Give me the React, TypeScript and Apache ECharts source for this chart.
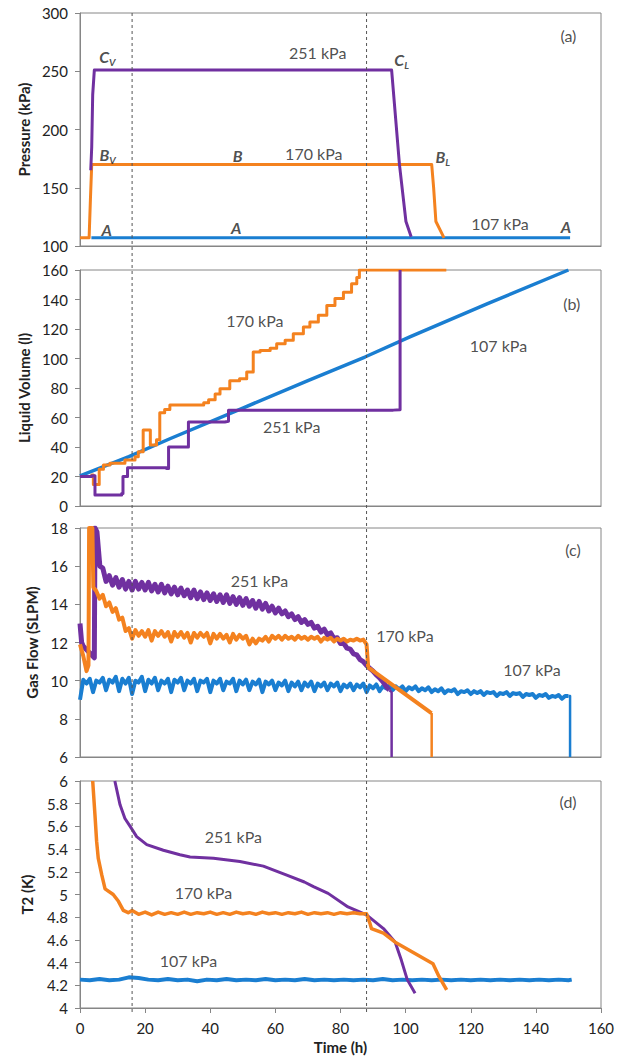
import React, { useEffect, useRef } from 'react';
import * as echarts from 'echarts';

// colours of the three runs
const PURPLE = '#7030A0';
const ORANGE = '#F4821F';
const BLUE = '#1A7ED1';

const timeTicks = { min: 0, max: 160, interval: 20 };
const dividerTimes = [16, 88];

// (a) pressure, kPa  [h, kPa]
const pressBlue = [[3.5, 107], [150.5, 107]];
const pressOrange = [[0, 107], [2.8, 107], [3.2, 140], [3.6, 170], [108, 170], [108.6, 150], [109.3, 121], [111.8, 107]];
const pressPurple = [[3.3, 165], [3.6, 185], [3.9, 230], [4.4, 251], [95.7, 251], [98.1, 170], [100.1, 121], [101.7, 108]];

// (b) liquid volume, l  [h, l]
const volBlue = [[0, 20.5], [15, 33.5], [27.6, 45.6], [50, 66.4], [70, 85], [87.5, 101], [101.3, 114.6], [125, 137], [150, 160]];
const volOrange = [
  [0, 20], [3.6, 21], [4.1, 14.5], [5.9, 25], [7.2, 27.8], [9.2, 29], [13.8, 31.2], [16.9, 33.4],
  [17.9, 36.8], [19.4, 51.5], [21.6, 41.4], [23.5, 45], [24.5, 63.3], [26, 65.5], [27.6, 68.5],
  [38, 70], [39.5, 72], [41.5, 76], [43, 79.5], [46, 85], [49, 86.2], [51.2, 90.8], [53.2, 104.4],
  [55.3, 105.5], [58.4, 107], [60.4, 110], [63, 112.3], [65.5, 116.8], [68.6, 121.4], [70.6, 124.7],
  [73.2, 129.3], [75.8, 136], [78.3, 140.6], [80.9, 145], [83.4, 150.7], [85, 155], [85.8, 160], [112.5, 160],
];
const volPurple = [
  [0, 20], [3.6, 20.5], [4.6, 7.5], [12.8, 8.5], [13.2, 20], [14.6, 26], [26.6, 25.5], [27.2, 40],
  [32.8, 40], [33.3, 57], [44.5, 57.4], [45.6, 65], [96.2, 65.3], [98.3, 67.8], [98.3, 160],
];

// (c) gas flow, SLPM — one reading per hour
const gasBlueFlow = [ // h 0 .. 150
  9.0, 10.05, 9.85, 10.1, 9.4, 10.0, 9.9, 10.15, 9.5, 10.05,
  9.9, 10.2, 9.45, 10.1, 9.85, 10.15, 9.3, 10.0, 9.9, 10.2,
  9.45, 10.05, 9.85, 10.15, 9.5, 10.0, 9.85, 10.1, 9.4, 10.05,
  9.9, 10.15, 9.5, 10.0, 9.85, 10.1, 9.45, 10.0, 9.9, 10.1,
  9.4, 10.0, 9.85, 10.1, 9.5, 9.95, 9.85, 10.1, 9.45, 10.0,
  9.8, 10.05, 9.5, 9.95, 9.8, 10.05, 9.4, 9.95, 9.8, 10.0,
  9.5, 9.9, 9.75, 10.0, 9.45, 9.9, 9.7, 9.95, 9.5, 9.9,
  9.7, 9.95, 9.45, 9.85, 9.7, 9.9, 9.5, 9.85, 9.7, 9.9,
  9.45, 9.8, 9.65, 9.85, 9.5, 9.8, 9.65, 9.85, 9.4, 9.75,
  9.6, 9.8, 9.45, 9.7, 9.6, 9.75, 9.5, 9.7, 9.55, 9.7,
  9.45, 9.65, 9.55, 9.7, 9.45, 9.6, 9.5, 9.65, 9.4, 9.55,
  9.45, 9.6, 9.35, 9.5, 9.45, 9.55, 9.3, 9.45, 9.4, 9.5,
  9.3, 9.45, 9.35, 9.45, 9.25, 9.4, 9.35, 9.4, 9.2, 9.35,
  9.3, 9.4, 9.2, 9.35, 9.3, 9.35, 9.15, 9.3, 9.25, 9.3,
  9.1, 9.25, 9.2, 9.3, 9.1, 9.2, 9.15, 9.25, 9.05, 9.2, 9.2,
];
const gasBlueDrop = [[150, 9.2], [150.5, 9.2], [150.5, 6]];

const gasPurpleStart = [[0, 13], [0.5, 12], [1, 11.8], [4.4, 11.2], [4.6, 18], [5.2, 17.8], [6.1, 16]];
const gasPurpleFlow = [ // h 7 .. 95
  15.9, 15.2, 15.5, 15.0, 15.4, 14.9, 15.3, 14.8, 15.2, 14.75,
  15.2, 14.8, 15.15, 14.75, 15.15, 14.7, 15.05, 14.65, 15.05, 14.6,
  14.95, 14.55, 14.9, 14.5, 14.85, 14.45, 14.75, 14.35, 14.75, 14.3,
  14.65, 14.25, 14.6, 14.2, 14.55, 14.15, 14.5, 14.1, 14.5, 14.05,
  14.4, 14.0, 14.35, 13.95, 14.3, 13.9, 14.2, 13.8, 14.15, 13.75,
  14.05, 13.65, 13.9, 13.55, 13.8, 13.5, 13.65, 13.35, 13.5, 13.2,
  13.35, 13.05, 13.2, 12.95, 13.05, 12.75, 12.85, 12.55, 12.7, 12.4,
  12.5, 12.2, 12.25, 11.95, 11.95, 11.7, 11.65, 11.4, 11.35, 11.1,
  11.0, 10.8, 10.65, 10.5, 10.3, 10.15, 9.95, 9.7, 9.5,
];
const gasPurpleDrop = [[95, 9.5], [95.7, 9.4], [95.7, 6]];

const gasOrangeStart = [[0, 11.9], [1, 11.3], [2, 10.5], [2.6, 10.8], [2.8, 18], [3.8, 18], [4.1, 14.9]];
const gasOrangeFlow = [ // h 5 .. 87
  14.7, 14.3, 14.5, 13.9, 14.1, 13.6, 13.8, 13.2, 13.3, 12.6,
  12.75, 12.2, 12.65, 12.35, 12.6, 12.3, 12.65, 12.1, 12.6, 12.35,
  12.6, 12.3, 12.55, 12.05, 12.55, 12.3, 12.55, 12.25, 12.5, 12.0,
  12.5, 12.25, 12.5, 12.3, 12.5, 11.95, 12.45, 12.2, 12.45, 12.2,
  12.4, 12.0, 12.45, 12.15, 12.4, 12.2, 12.35, 11.9, 12.2, 11.95,
  12.2, 12.1, 12.3, 12.05, 12.35, 12.2, 12.35, 12.15, 12.35, 12.2,
  12.3, 12.15, 12.35, 12.2, 12.3, 12.15, 12.3, 12.2, 12.3, 12.05,
  12.25, 12.15, 12.25, 12.05, 12.2, 12.1, 12.2, 12.05, 12.15, 12.1,
  12.2, 12.1, 12.15,
];
const gasOrangeEnd = [[88, 11.9], [88.5, 10.7], [107.5, 8.35], [108, 8.3]];
const gasOrangeDrop = [[108, 8.3], [108, 6]];

// (d) T2, K
const tempBlueT2 = [ // every 3 h, h 0 .. 150
  4.25, 4.245, 4.255, 4.245, 4.25, 4.27, 4.265, 4.25, 4.245, 4.255, 4.245, 4.25, 4.235, 4.25, 4.245, 4.255, 4.245,
  4.25, 4.245, 4.255, 4.245, 4.25, 4.245, 4.255, 4.245, 4.25, 4.245, 4.25, 4.245, 4.25, 4.245, 4.255, 4.245, 4.25,
  4.245, 4.25, 4.245, 4.25, 4.245, 4.25, 4.245, 4.25, 4.245, 4.25, 4.245, 4.25, 4.245, 4.25, 4.245, 4.25, 4.245,
];
const tempOrangeStart = [[3.9, 6.0], [4.6, 5.7], [5.1, 5.47], [5.6, 5.32], [6.7, 5.17], [7.7, 5.05], [10.2, 5.0], [11.8, 4.94], [13.3, 4.86], [14.8, 4.84]];
const tempOrangeT2 = [ // every 2 h, h 16 .. 88
  4.86, 4.825, 4.845, 4.82, 4.845, 4.825, 4.84, 4.825, 4.845, 4.825, 4.84, 4.83, 4.845, 4.825, 4.84, 4.825, 4.845,
  4.83, 4.84, 4.825, 4.845, 4.83, 4.84, 4.825, 4.84, 4.83, 4.845, 4.825, 4.84, 4.83, 4.84, 4.825, 4.84, 4.83, 4.84, 4.83, 4.83,
];
const tempOrangeEnd = [[89, 4.75], [89.5, 4.7], [93.2, 4.66], [96.8, 4.58], [108.4, 4.39], [110.2, 4.28], [112.6, 4.16]];
const tempPurple = [
  [10.7, 6.0], [12.3, 5.79], [13.8, 5.67], [15.4, 5.6], [17.4, 5.51], [20.5, 5.44], [25.6, 5.39], [30.7, 5.35],
  [33.8, 5.33], [41, 5.32], [49.1, 5.29], [56.3, 5.25], [63.5, 5.17], [68.9, 5.11], [71.7, 5.07], [76.2, 5.01],
  [82.3, 4.89], [88, 4.82], [93.2, 4.7], [96.8, 4.58], [98.7, 4.42], [100.5, 4.25], [102.9, 4.13],
];

// annotations [h, value, text]
const notesA = [
  [8.4, 262.5, '{it|C}{sub|V}'], [73, 266, '251 kPa'], [98.8, 259.7, '{it|C}{sub|L}'],
  [8.5, 178.2, '{it|B}{sub|V}'], [48.4, 178, '{it|B}'], [71.8, 179.7, '170 kPa'], [111.4, 176.8, '{it|B}{sub|L}'],
  [8.2, 114.5, '{it|A}'], [48, 116, '{it|A}'], [129, 119, '107 kPa'], [149.2, 116.7, '{it|A}'], [150, 281, '(a)'],
];
const notesB = [[53.7, 125.9, '170 kPa'], [65, 54.2, '251 kPa'], [128.5, 109, '107 kPa'], [151, 137.4, '(b)']];
const notesC = [[55.1, 15.27, '251 kPa'], [99.8, 12.39, '170 kPa'], [138.8, 10.56, '107 kPa'], [151.4, 16.85, '(c)']];
const notesD = [[47.1, 5.51, '251 kPa'], [37.9, 5.02, '170 kPa'], [33.3, 4.42, '107 kPa'], [149.9, 5.82, '(d)']];

const hourly = (start: number, step: number, vals: number[]) => vals.map((v, i) => [start + i * step, v]);

const FONT = 'Lato, "Open Sans", sans-serif';
const TXT = '#222222';
const FRAME = '#868686';

const grids = [
  { top: 13, height: 233 },
  { top: 270, height: 236 },
  { top: 528, height: 229 },
  { top: 781, height: 227 },
];

const yAxes = [
  { min: 100, max: 300, interval: 50, name: 'Pressure (kPa)', gap: 47 },
  { min: 0, max: 160, interval: 20, name: 'Liquid Volume (l)', gap: 39 },
  { min: 6, max: 18, interval: 2, name: 'Gas Flow (SLPM)', gap: 39 },
  { min: 4, max: 6, interval: 0.2, name: 'T2 (K)', gap: 46 },
];

const line = (gi: number, data: number[][], color: string, width = 3, step?: string) => ({
  type: 'line',
  xAxisIndex: gi,
  yAxisIndex: gi,
  data,
  step,
  showSymbol: false,
  symbol: 'none',
  lineStyle: { color, width, join: 'round' },
  silent: true,
});

const notes = (gi: number, items: (number | string)[][]) => ({
  type: 'scatter',
  xAxisIndex: gi,
  yAxisIndex: gi,
  symbolSize: 0.01,
  silent: true,
  z: 10,
  data: items.map((n) => ({ value: [n[0], n[1]], name: n[2] })),
  label: {
    show: true,
    position: 'inside',
    formatter: (p: any) => p.name,
    color: TXT,
    fontFamily: FONT,
    fontSize: 16,
    rich: {
      it: { fontFamily: FONT, fontStyle: 'italic', fontWeight: 'bold', fontSize: 16, color: TXT },
      sub: { fontFamily: FONT, fontStyle: 'italic', fontWeight: 'bold', fontSize: 10, color: TXT, padding: [10, 0, 0, 0] },
    },
  },
});

export default function App() {
  const ref = useRef<HTMLDivElement>(null);

  useEffect(() => {
    if (!ref.current) return;
    const chart = echarts.init(ref.current, undefined, { renderer: 'svg' });

    chart.setOption({
      animation: false,
      backgroundColor: '#ffffff',
      grid: grids.map((g) => ({
        left: 80,
        right: 22,
        top: g.top,
        height: g.height,
        show: true,
        borderColor: FRAME,
        borderWidth: 1,
        backgroundColor: 'transparent',
      })),
      xAxis: grids.map((_, i) => ({
        type: 'value',
        gridIndex: i,
        ...timeTicks,
        name: i === 3 ? 'Time (h)' : '',
        nameLocation: 'middle',
        nameGap: 31,
        nameTextStyle: { fontFamily: FONT, fontSize: 15, fontWeight: 'bold', color: TXT },
        axisLine: { show: true, lineStyle: { color: FRAME } },
        axisTick: { show: i === 3, inside: false, length: 5, lineStyle: { color: FRAME } },
        axisLabel: { show: i === 3, margin: 12, fontFamily: FONT, fontSize: 15, color: TXT },
        splitLine: { show: false },
      })),
      yAxis: yAxes.map((y, i) => ({
        type: 'value',
        gridIndex: i,
        min: y.min,
        max: y.max,
        interval: y.interval,
        name: y.name,
        nameLocation: 'middle',
        nameGap: y.gap,
        nameTextStyle: { fontFamily: FONT, fontSize: 15, fontWeight: 'bold', color: TXT },
        axisLine: { show: true, lineStyle: { color: FRAME } },
        axisTick: { show: true, inside: false, length: 5, lineStyle: { color: FRAME } },
        axisLabel: {
          margin: 12,
          fontFamily: FONT,
          fontSize: 15,
          color: TXT,
          formatter: (v: number) => String(+v.toFixed(1)),
        },
        splitLine: { show: false },
      })),
      series: [
        line(0, pressBlue, BLUE),
        line(0, pressOrange, ORANGE),
        line(0, pressPurple, PURPLE),
        notes(0, notesA),

        line(1, volBlue, BLUE, 3.5),
        line(1, volOrange, ORANGE, 3, 'end'),
        line(1, volPurple, PURPLE, 3, 'end'),
        notes(1, notesB),

        line(2, hourly(0, 1, gasBlueFlow), BLUE, 4),
        line(2, gasBlueDrop, BLUE, 2.5),
        line(2, [...gasPurpleStart, ...hourly(7, 1, gasPurpleFlow)], PURPLE, 5),
        line(2, gasPurpleDrop, PURPLE, 2.5),
        line(2, [...gasOrangeStart, ...hourly(5, 1, gasOrangeFlow), ...gasOrangeEnd], ORANGE, 4),
        line(2, gasOrangeDrop, ORANGE, 2.5),
        notes(2, notesC),

        line(3, [...hourly(0, 3, tempBlueT2), [151, 4.25]], BLUE, 4),
        line(3, tempPurple, PURPLE, 3),
        line(3, [...tempOrangeStart, ...hourly(16, 2, tempOrangeT2), ...tempOrangeEnd], ORANGE, 3.5),
        notes(3, notesD),
      ],
    });

    // dashed phase dividers run through all four panels
    const topY = chart.convertToPixel({ gridIndex: 0 }, [0, yAxes[0].max])[1];
    const botY = chart.convertToPixel({ gridIndex: 3 }, [0, yAxes[3].min])[1];
    chart.setOption({
      graphic: dividerTimes.map((t) => {
        const x = chart.convertToPixel({ gridIndex: 3 }, [t, yAxes[3].min])[0];
        return {
          type: 'line',
          silent: true,
          z: 5,
          shape: { x1: x, y1: topY, x2: x, y2: botY + 4 },
          style: { stroke: '#555', lineWidth: 1, lineDash: [3, 3] },
        };
      }),
    });

    return () => chart.dispose();
  }, []);

  return <div ref={ref} style={{ position: 'absolute', left: 0, top: 0, width: 623, height: 1057 }} />;
}
